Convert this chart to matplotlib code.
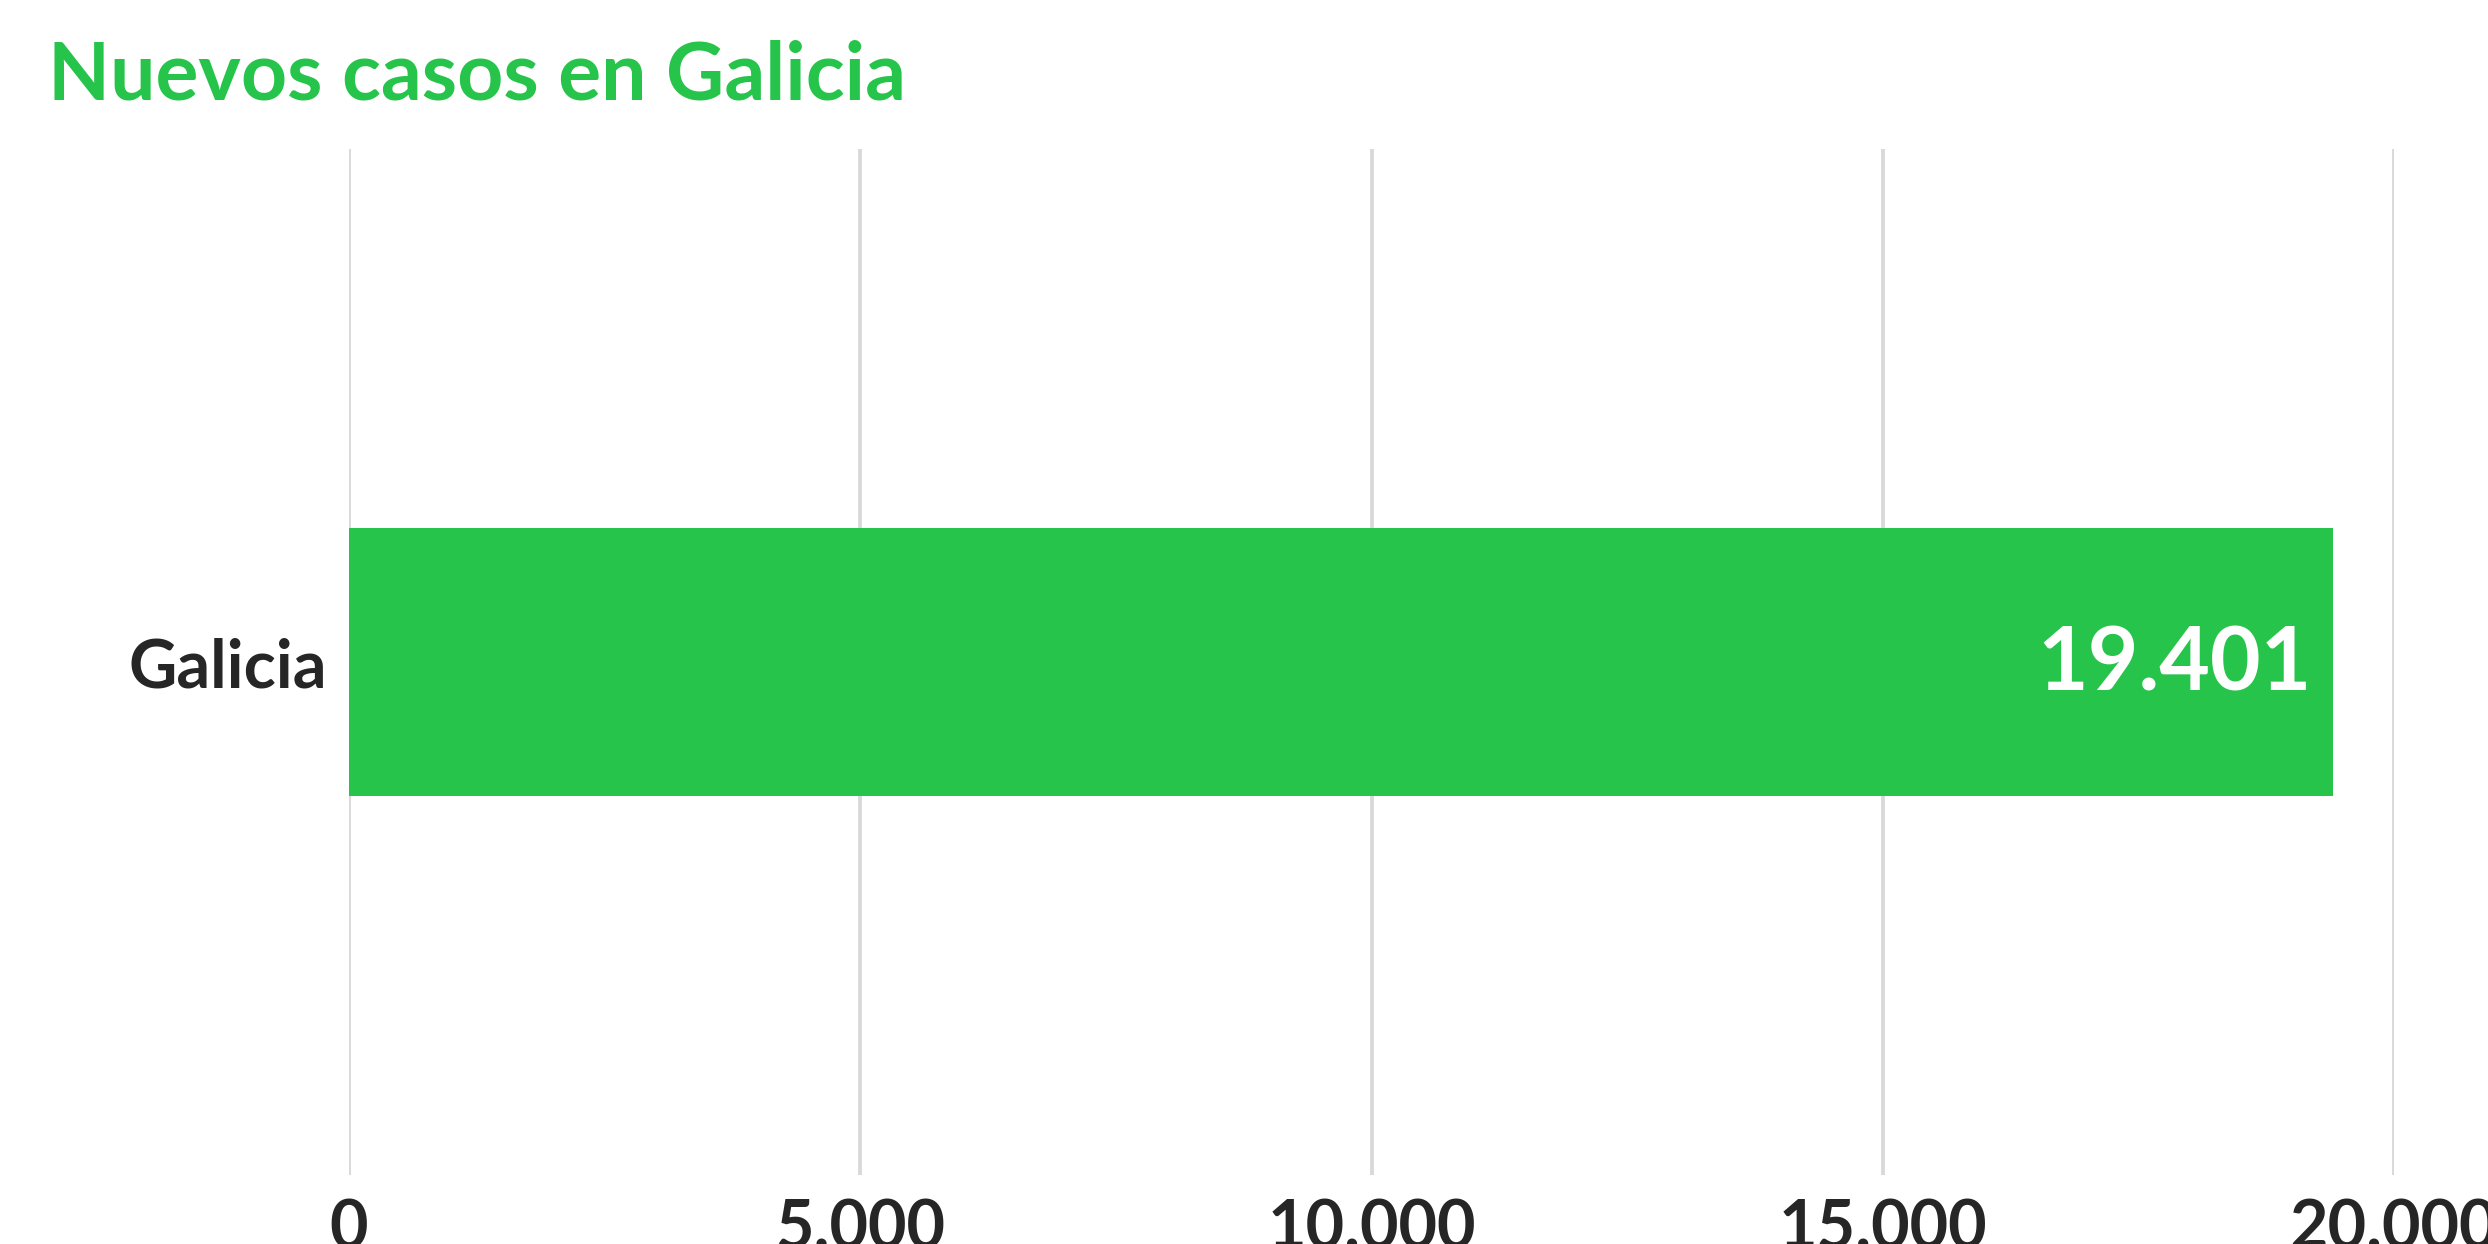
import matplotlib
matplotlib.use("Agg")
import matplotlib.pyplot as plt

# data
categories = ["Galicia"]
values = [19401]
xticks = [0, 5000, 10000, 15000, 20000]
xtick_labels = ["0", "5.000", "10.000", "15.000", "20.000"]
title = "Nuevos casos en Galicia"

green = "#26C44A"
dark = "#262626"
W, H = 2488, 1244

plt.rcParams["font.family"] = ["Lato", "DejaVu Sans"]

fig = plt.figure(figsize=(W / 100, H / 100), dpi=100)
ax = fig.add_axes([349 / W, 1 - 1175 / H, (2394 - 349) / W, (1175 - 149) / H])

ax.barh(range(len(categories)), values, height=0.262, color=green, zorder=3)
for i, v in enumerate(values):
    ax.annotate("{:,}".format(v).replace(",", "."), (v, i), xytext=(-15, -2),
                textcoords="offset points", ha="right", va="center",
                color="white", fontsize=63, fontweight="bold", zorder=4)

ax.set_xlim(0, 20000)
ax.set_ylim(-0.5, 0.5)
ax.set_xticks(xticks)
ax.set_xticklabels(xtick_labels)
ax.set_yticks(range(len(categories)))
ax.set_yticklabels(categories)
ax.tick_params(axis="both", length=0, labelsize=48, labelcolor=dark)
ax.tick_params(axis="x", pad=17)
ax.tick_params(axis="y", pad=16)
for lab in ax.get_xticklabels() + ax.get_yticklabels():
    lab.set_fontweight("bold")

ax.grid(axis="x", color="#D9D9D9", linewidth=2.8, zorder=0)
ax.grid(axis="y", visible=False)
for s in ax.spines.values():
    s.set_visible(False)

fig.text(48 / W, 1 - 100 / H, title, ha="left", va="baseline",
         color=green, fontsize=58, fontweight="bold")

fig.savefig("out.png", dpi=100)
